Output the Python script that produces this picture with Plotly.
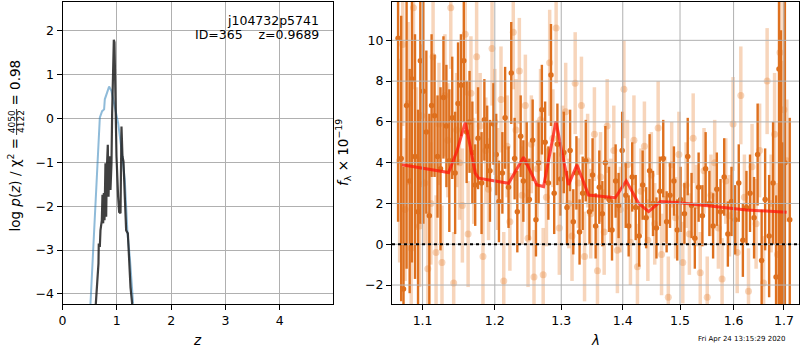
import plotly.graph_objects as go
import math

# ---------------- data ----------------
# left panel: redshift probability
z_pz = [0.50, 0.564, 0.613, 0.656, 0.687, 0.729, 0.766, 0.779, 0.810, 0.858, 0.902,
        0.963, 1.024, 1.087, 1.147, 1.197, 1.239, 1.300]
logp_pz = [-4.6, -2.93, -1.78, -0.64, 0.02, 0.17, 0.21, 0.44, 0.55, 0.73, 0.63,
           0.28, -0.10, -0.71, -1.40, -2.62, -3.16, -4.22]

z_chi = [0.613, 0.638, 0.662, 0.668, 0.687, 0.699, 0.724, 0.736, 0.749, 0.761, 0.773,
         0.791, 0.804, 0.816, 0.834, 0.847, 0.865, 0.883, 0.902, 0.914, 0.932, 0.945,
         0.957, 0.975, 0.994, 1.024, 1.043, 1.068, 1.086, 1.104, 1.123, 1.147, 1.172,
         1.203, 1.227, 1.252, 1.289]
logp_chi = [-4.23, -3.77, -3.31, -2.85, -2.93, -2.55, -2.32, -1.74, -2.39, -1.70, -2.32,
            -1.02, -2.24, -1.17, -0.60, -1.78, -0.86, -1.63, -1.02, 0.13, 1.12, 1.80,
            1.74, 0.51, -0.86, -1.78, -2.13, -2.16, -0.18, -0.86, -0.98, -1.78, -2.55,
            -2.62, -3.16, -3.85, -4.30]

# right panel: spectrum (dark beam)
lam_dark = [
    1.068, 1.072, 1.075, 1.079, 1.083, 1.086, 1.090, 1.094, 1.097, 1.101,
    1.105, 1.109, 1.112, 1.116, 1.120, 1.124, 1.128, 1.132, 1.136, 1.140, 1.144, 1.148,
    1.152, 1.156, 1.160, 1.164, 1.168, 1.172, 1.176, 1.181, 1.185, 1.189, 1.193, 1.198,
    1.202, 1.206, 1.211, 1.215, 1.220, 1.224, 1.229, 1.233, 1.238, 1.242, 1.247,
    1.251, 1.256, 1.261, 1.265, 1.270, 1.275, 1.280, 1.284, 1.289, 1.294, 1.299,
    1.304, 1.309, 1.314, 1.319, 1.324, 1.329, 1.334, 1.339, 1.345, 1.350, 1.355,
    1.361, 1.366, 1.371, 1.377, 1.382, 1.388, 1.393, 1.399, 1.405, 1.410, 1.416,
    1.422, 1.428, 1.434, 1.440, 1.446, 1.452, 1.458, 1.464, 1.470, 1.476, 1.482,
    1.489, 1.495, 1.501, 1.508, 1.514, 1.521, 1.527, 1.534, 1.541, 1.547, 1.554,
    1.561, 1.568, 1.575, 1.582, 1.589, 1.596, 1.603, 1.610, 1.618, 1.625, 1.632,
    1.640, 1.647, 1.655, 1.662, 1.670, 1.678, 1.684, 1.690, 1.694, 1.698, 1.702, 1.712]
flux_dark = [
    10.1, 4.2, -2.2, 6.8, 3.1, 8.1, 4.3, 1.6, 9.0, 7.5,
    5.5, 1.4, 6.8, 6.3, 4.3, 3.7, 7.2, 5.8, 4.1, 6.2, 3.5, 6.9,
    7.8, 9.0, 5.5, 6.0, 4.5, 2.9, 5.2, 3.0, 6.1, 4.8, 3.6, 5.9,
    4.4, 2.1, 3.5, 6.2, 2.8, 8.4, 4.2, 1.6, 5.3, 3.1, 4.0,
    2.2, 5.1, 1.2, 4.0, 6.6, 5.0, 3.0, 8.3, 2.5, 4.9, 3.2,
    4.5, 1.8, 4.6, 1.1, 3.5, 0.6, 2.5, 4.1, 1.6, 3.4, 0.9,
    2.8, 1.5, 4.0, 2.2, 0.7, 3.1, 1.9, 4.6, 2.4, 0.9, 3.3,
    1.8, 0.4, 2.9, 1.3, 3.6, 2.0, 0.8, 2.6, 4.2, 1.1, 2.4,
    3.1, 0.7, 2.2, 1.5, 4.3, 1.9, 0.3, 2.8, 1.4, 3.7, 2.0,
    0.9, 2.7, 1.6, 3.3, 0.5, 2.1, 1.2, 3.0, 0.2, 1.8, 2.5,
    1.3, 4.4, -0.8, 2.2, 0.4, 3.0, -1.6, 8.6, 2.5, -1.0, 4.0, 1.2]
err_dark = [
    9.0, 7.0, 6.0, 8.0, 5.5, 9.0, 6.0, 5.0, 8.0, 6.5,
    4.0, 5.0, 3.5, 3.0, 3.0, 4.0, 3.0, 3.0, 3.5, 3.0, 3.0, 3.0,
    2.5, 3.0, 2.5, 2.5, 2.5, 2.0, 2.5, 2.5, 2.0, 2.0, 2.5, 2.0,
    2.0, 2.0, 2.0, 2.5, 2.0, 2.5, 2.0, 2.0, 2.0, 2.0, 2.0,
    2.0, 2.0, 1.8, 2.0, 2.2, 2.0, 1.8, 2.5, 2.0, 2.0, 1.8,
    2.0, 1.8, 2.0, 1.6, 1.8, 1.6, 1.8, 2.0, 1.6, 1.8, 1.6,
    1.8, 1.6, 1.8, 1.6, 1.5, 1.8, 1.6, 1.9, 1.6, 1.5, 1.7,
    1.6, 1.5, 1.7, 1.5, 1.8, 1.6, 1.5, 1.7, 1.9, 1.5, 1.6,
    1.7, 1.5, 1.6, 1.5, 1.9, 1.6, 1.5, 1.7, 1.5, 1.8, 1.6,
    1.6, 1.8, 1.6, 1.9, 1.6, 1.7, 1.7, 1.9, 1.8, 1.8, 1.9,
    2.0, 2.5, 2.5, 2.5, 3.0, 3.0, 4.0, 12.0, 8.0, 6.0, 10.0, 5.0]

# right panel: spectrum (light beam)
lam_light = [
    1.070, 1.074, 1.077, 1.081, 1.085, 1.088, 1.092, 1.096, 1.099, 1.103,
    1.107, 1.111, 1.114, 1.118, 1.122, 1.126, 1.130, 1.134, 1.138, 1.142, 1.146, 1.150,
    1.154, 1.158, 1.162, 1.166, 1.170, 1.174, 1.179, 1.183, 1.187, 1.191, 1.196, 1.200,
    1.204, 1.209, 1.213, 1.218, 1.222, 1.227, 1.231, 1.236, 1.240, 1.245, 1.249,
    1.254, 1.258, 1.263, 1.268, 1.272, 1.277, 1.282, 1.287, 1.292, 1.297, 1.302,
    1.307, 1.312, 1.317, 1.322, 1.327, 1.332, 1.337, 1.342, 1.347, 1.353, 1.358,
    1.363, 1.369, 1.374, 1.380, 1.385, 1.391, 1.396, 1.402, 1.408, 1.413, 1.419,
    1.425, 1.431, 1.437, 1.443, 1.449, 1.455, 1.461, 1.467, 1.473, 1.479, 1.485,
    1.492, 1.498, 1.505, 1.511, 1.517, 1.524, 1.530, 1.537, 1.544, 1.550, 1.557,
    1.564, 1.571, 1.578, 1.585, 1.592, 1.599, 1.607, 1.614, 1.621, 1.629, 1.636,
    1.644, 1.651, 1.659, 1.666, 1.674, 1.681, 1.687, 1.692, 1.696, 1.700, 1.706]
flux_light = [
    4.1, 9.8, 1.7, 6.9, -0.2, 11.6, 4.2, 0.9, 6.3, 3.0,
    -1.2, 2.0, 9.2, -0.4, 5.9, -0.9, 7.3, 5.1, 11.6, -1.9, 5.6, 4.0,
    1.9, 10.3, 0.5, 7.4, 3.6, 9.2, 5.8, -0.6, 4.6, 2.7, 9.6, 6.0,
    3.2, 7.1, -1.8, 4.8, 1.1, 10.4, 5.6, 8.5, 2.4, 6.8, 0.3,
    4.9, -1.6, 3.7, 6.1, -1.5, 2.3, 8.9, 5.2, 10.6, 0.8, 4.4,
    6.5, 2.0, 0.4, 7.9, 3.0, 6.8, -0.6, 4.1, 1.5, 5.4, -1.3,
    3.3, 0.6, 5.8, 2.1, 4.6, -0.3, 1.7, 7.6, 3.9, 0.1, 5.1,
    -1.1, 2.6, 4.8, 0.2, 3.4, 1.0, 5.7, -0.5, 2.2, -2.6, 3.9,
    1.3, 4.4, -0.9, 2.9, 0.5, 5.2, 1.9, -1.4, 3.6, -2.6, 2.4,
    4.0, 0.8, -1.7, 3.1, 1.4, 5.9, -0.4, 7.3, 2.3, -2.3, 3.8,
    1.0, 4.6, -1.9, 8.0, 2.0, 5.4, -0.5, 9.4, 3.0, 6.6, 4.1]
err_light = [
    5.0, 4.0, 3.5, 4.0, 3.0, 4.0, 3.5, 3.0, 3.5, 3.0,
    2.8, 3.0, 3.0, 2.8, 3.0, 2.8, 3.0, 2.8, 3.0, 2.5, 2.8, 2.8,
    2.8, 3.0, 2.6, 2.8, 2.6, 2.8, 2.6, 2.6, 2.6, 2.5, 2.8, 2.6,
    2.5, 2.6, 2.4, 2.5, 2.4, 2.8, 2.5, 2.6, 2.4, 2.5, 2.4,
    2.4, 2.3, 2.4, 2.5, 2.3, 2.4, 2.6, 2.4, 2.7, 2.3, 2.4,
    2.4, 2.2, 2.2, 2.5, 2.2, 2.4, 2.2, 2.3, 2.2, 2.3, 2.2,
    2.2, 2.1, 2.3, 2.1, 2.2, 2.1, 2.1, 2.4, 2.2, 2.1, 2.2,
    2.1, 2.1, 2.2, 2.0, 2.1, 2.0, 2.3, 2.0, 2.1, 2.0, 2.1,
    2.0, 2.1, 2.0, 2.1, 2.0, 2.2, 2.0, 2.0, 2.1, 2.0, 2.0,
    2.1, 2.0, 2.0, 2.1, 2.0, 2.3, 2.0, 2.4, 2.1, 2.1, 2.1,
    2.2, 2.3, 2.3, 2.6, 2.4, 3.0, 3.5, 5.0, 6.0, 8.0, 3.0]

# best-fit model
lam_model = [1.0730, 1.1350, 1.1465, 1.1580, 1.1650, 1.1720, 1.1767, 1.2201, 1.2423,
             1.2625, 1.2726, 1.2917, 1.3115, 1.3248, 1.3435, 1.3874, 1.4059, 1.4269,
             1.4443, 1.4648, 1.4999, 1.5613, 1.6253, 1.7056]
flux_model = [3.90, 3.52, 4.57, 5.98, 4.80, 3.49, 3.24, 2.99, 4.27,
              2.91, 2.83, 6.03, 2.91, 3.90, 2.41, 2.28, 3.11, 2.01,
              1.60, 2.09, 2.04, 1.85, 1.68, 1.57]

z_ticks = [0, 1, 2, 3, 4]
logp_ticks = [-4, -3, -2, -1, 0, 1, 2]
lam_ticks = [1.1, 1.2, 1.3, 1.4, 1.5, 1.6, 1.7]
flux_ticks = [-2, 0, 2, 4, 6, 8, 10]

obj_name = "j104732p5741"
obj_id = 365
z_best = 0.9689
chi_num, chi_den, chi_ratio = 4050, 4122, 0.98
timestamp = "Fri Apr 24 13:15:29 2020"

# ---------------- layout helpers ----------------
W, H = 800, 350
def PX(x): return x / W
def PY(y): return 1 - y / H

FONT = "DejaVu Sans"
FS = 12.5
GRID = "#b0b0b0"
DARK = "rgb(222,112,30)"
LIGHT = "rgba(232,128,50,0.33)"

fig = go.Figure()

fig.add_trace(go.Scatter(x=z_pz, y=logp_pz, mode="lines",
                         line=dict(color="rgba(31,119,180,0.5)", width=2),
                         xaxis="x", yaxis="y", hoverinfo="skip"))
fig.add_trace(go.Scatter(x=z_chi, y=logp_chi, mode="lines",
                         line=dict(color="rgba(30,30,30,0.85)", width=2.2),
                         xaxis="x", yaxis="y", hoverinfo="skip"))

fig.add_trace(go.Scatter(x=lam_light, y=flux_light, mode="markers",
                         marker=dict(color=LIGHT, size=7, line=dict(width=0)),
                         error_y=dict(type="data", array=err_light, color=LIGHT,
                                      thickness=3.5, width=0),
                         xaxis="x2", yaxis="y2", hoverinfo="skip"))
fig.add_trace(go.Scatter(x=lam_dark, y=flux_dark, mode="markers",
                         marker=dict(color=DARK, size=5.5, line=dict(width=0)),
                         error_y=dict(type="data", array=err_dark, color=DARK,
                                      thickness=2.4, width=0),
                         xaxis="x2", yaxis="y2", hoverinfo="skip"))
fig.add_trace(go.Scatter(x=lam_model, y=flux_model, mode="lines",
                         line=dict(color="rgba(255,20,10,0.75)", width=3),
                         xaxis="x2", yaxis="y2", hoverinfo="skip"))

ydom = [PY(304), PY(2)]
axis_common = dict(showline=True, linecolor="black", linewidth=1, mirror=True,
                   ticks="outside", ticklen=5, tickwidth=1, tickcolor="black",
                   zeroline=False, automargin=False,
                   tickfont=dict(family=FONT, size=FS, color="black"))

fig.update_layout(
    width=W, height=H, margin=dict(l=0, r=0, t=0, b=0, autoexpand=False),
    paper_bgcolor="white", plot_bgcolor="white", showlegend=False,
    font=dict(family=FONT, size=FS, color="black"),
    xaxis=dict(domain=[PX(62.5), PX(333)], range=[0, 4.98], tickmode="array",
               tickvals=z_ticks, showgrid=True, gridcolor=GRID, gridwidth=1,
               anchor="y", **axis_common),
    yaxis=dict(domain=ydom, range=[-4.23, 2.66], tickmode="array",
               tickvals=logp_ticks, ticktext=[str(v).replace("-", "\u2212") for v in logp_ticks],
               showgrid=True, gridcolor=GRID, gridwidth=1, anchor="x", **axis_common),
    xaxis2=dict(domain=[PX(392), PX(799)], type="log",
                range=[math.log10(1.0602), math.log10(1.7312)], tickmode="array",
                tickvals=lam_ticks, ticktext=[f"{v:.1f}" for v in lam_ticks],
                showgrid=False, anchor="y2", **axis_common),
    yaxis2=dict(domain=ydom, range=[-2.93, 11.88], tickmode="array",
                tickvals=flux_ticks, ticktext=[str(v).replace("-", "\u2212") for v in flux_ticks],
                showgrid=False, anchor="x2", **axis_common),
)

shapes = []
for v in lam_ticks:
    shapes.append(dict(type="line", xref="x2", yref="y2 domain", x0=v, x1=v, y0=0, y1=1,
                       line=dict(color=GRID, width=1), layer="above"))
for v in flux_ticks:
    shapes.append(dict(type="line", xref="x2 domain", yref="y2", x0=0, x1=1, y0=v, y1=v,
                       line=dict(color=GRID, width=1), layer="above"))
shapes.append(dict(type="line", xref="x2 domain", yref="y2", x0=0, x1=1, y0=0, y1=0,
                   line=dict(color="black", width=2, dash="dot"), layer="above"))
fig.update_layout(shapes=shapes)

ann = []
def A(text, x, y, size=FS, xanchor="center", yanchor="middle", angle=0):
    ann.append(dict(text=text, x=PX(x), y=PY(y), xref="paper", yref="paper",
                    showarrow=False, xanchor=xanchor, yanchor=yanchor, textangle=angle,
                    borderpad=0, font=dict(family=FONT, size=size, color="black")))

A(obj_name, 320, 20, xanchor="right")
A(f"ID={obj_id}\u00a0\u00a0\u00a0\u00a0z={z_best:.4f}", 320, 34, xanchor="right")

# left y label (rotated) with stacked fraction
A("log\u00a0<i>p</i>(<i>z</i>)\u00a0/\u00a0χ<sup>2</sup>\u00a0=", 14.5, 137, angle=-90, yanchor="top", size=13.5)
A(str(chi_num), 12.3, 122, size=9, angle=-90)
A(str(chi_den), 21.0, 122, size=9, angle=-90)
A(f"=\u00a0{chi_ratio:.2f}", 14.5, 106, angle=-90, yanchor="bottom", size=13.5)
fig.add_shape(type="line", xref="paper", yref="paper", x0=PX(16.6), x1=PX(16.6),
              y0=PY(109), y1=PY(135), line=dict(color="black", width=0.8))

A("<i>f</i><sub>λ</sub>\u00a0×\u00a010<sup>−19</sup>", 343, 153, angle=-90, size=13.5)
A("<i>z</i>", 197, 340, size=13.5)
A("<i>λ</i>", 595, 340, size=13.5)
A(timestamp, 787, 339, size=7, xanchor="right")

fig.update_layout(annotations=ann)

fig.write_html("out.html", config={"displayModeBar": False},
               post_script="document.body.style.margin='0px';document.body.style.overflow='hidden';")
